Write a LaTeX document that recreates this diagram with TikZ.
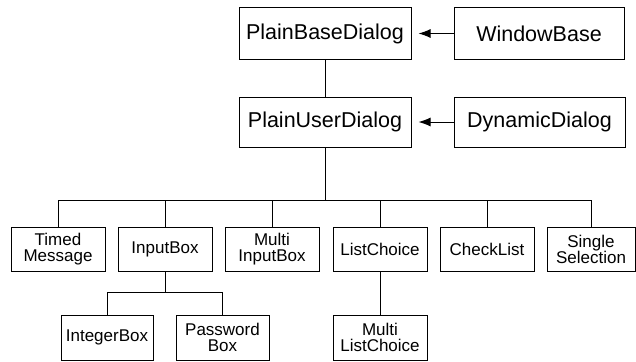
\documentclass[tikz,border=0pt]{standalone}
\usepackage{fontspec}
\setmainfont{Liberation Sans}
\usetikzlibrary{arrows.meta}

\begin{document}
\begin{tikzpicture}[x=1pt,y=-1pt,
    cls/.style={draw,line width=1pt,minimum width=94pt,minimum height=44pt,
        inner sep=1pt,align=center,font=\fontsize{17}{16}\selectfont},
    topcls/.style={cls,minimum height=52pt,font=\fontsize{21.5}{24}\selectfont},
    inh/.style={line width=1pt,shorten >=7pt,-{Latex[length=12pt,width=9pt]}}
]
    \useasboundingbox (0,0) rectangle (636,361);
    % top of the hierarchy
    \node[topcls,minimum width=172pt] (pbd) at (325,33.5) {PlainBaseDialog};
    \node[topcls,minimum width=170pt] (wb) at (539,33.5) {WindowBase};
    \node[topcls,minimum width=172pt,minimum height=50pt] (pud) at (325,122) {PlainUserDialog};
    \node[topcls,minimum width=171pt,minimum height=50pt] (dd) at (539.5,122) {DynamicDialog};
    % dialog classes
    \node[cls] (tm) at (58,249) {Timed\\Message};
    \node[cls] (ib) at (165,249) {InputBox};
    \node[cls] (mib) at (272,249) {Multi\\InputBox};
    \node[cls] (lc) at (380,249) {ListChoice};
    \node[cls] (cl) at (487,249) {CheckList};
    \node[cls,minimum width=88pt] (ss) at (591,249) {Single\\Selection};
    % second level
    \node[cls,minimum width=92pt,minimum height=45pt] (intb) at (107,337.5) {IntegerBox};
    \node[cls,minimum width=93pt,minimum height=45pt] (pwb) at (222.5,337.5) {Password\\Box};
    \node[cls,minimum height=45pt] (mlc) at (380,337.5) {Multi\\ListChoice};
    \coordinate (bus) at (325,200);
    \coordinate (sub) at (165,292);

    \draw[inh] (wb) -- (pbd);
    \draw[inh] (dd) -- (pud);
    \draw[line width=1pt] (pbd) -- (pud);
    \draw[line width=1pt] (pud.south) -- (bus);
    \foreach \n in {tm,ib,mib,lc,cl,ss}
        \draw[line width=1pt] (\n.north) -- (\n.north |- bus);
    \draw[line width=1pt] (tm.north |- bus) -- (ss.north |- bus);
    \draw[line width=1pt] (ib.south) -- (ib.south |- sub);
    \foreach \n in {intb,pwb}
        \draw[line width=1pt] (\n.north) -- (\n.north |- sub);
    \draw[line width=1pt] (intb.north |- sub) -- (pwb.north |- sub);
    \draw[line width=1pt] (lc) -- (mlc);
\end{tikzpicture}
\end{document}
